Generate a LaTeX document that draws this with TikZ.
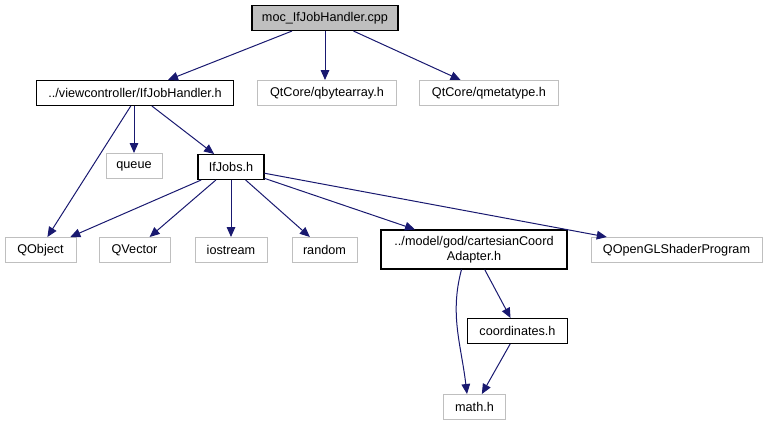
\documentclass[tikz,border=0pt]{standalone}
\usepackage{fontspec}
\setmainfont{Liberation Sans}
\usetikzlibrary{arrows.meta}
\definecolor{edgeblue}{RGB}{25,25,112}
\definecolor{boxgray}{RGB}{191,191,191}

\begin{document}
\begin{tikzpicture}[x=0.75pt,y=-0.75pt,
    font=\fontsize{9.5}{11}\selectfont,
    file/.style={draw=boxgray,line width=0.75pt,fill=white,inner sep=0pt,minimum height=18.75pt,align=center},
    local/.style={file,draw=black,line width=0.8pt},
    root/.style={local,fill=boxgray},
    edge/.style={draw=edgeblue,line width=0.75pt,-{Triangle[length=7.5pt,width=6.5pt]}}]
  \useasboundingbox (0,0) rectangle (767,425);
  \node[root,minimum width=109.5pt] (moc) at (325,18) {moc\_IfJobHandler.cpp};
  \node[local,minimum width=147.75pt] (ifjh) at (135,93) {../viewcontroller/IfJobHandler.h};
  \node[file,minimum width=104.25pt] (qba) at (327,93) {QtCore/qbytearray.h};
  \node[file,minimum width=104.25pt] (qmt) at (489,93) {QtCore/qmetatype.h};
  \node[file,minimum width=42pt] (queue) at (134,166) {queue};
  \node[local,minimum width=49.5pt] (ifjobs) at (231,167) {IfJobs.h};
  \node[file,minimum width=53.25pt] (qobj) at (40.5,250) {QObject};
  \node[file,minimum width=53.25pt] (qvec) at (134.5,250) {QVector};
  \node[file,minimum width=54pt] (iostr) at (231,250) {iostream};
  \node[file,minimum width=48.75pt] (rand) at (324.5,250) {random};
  \node[local,minimum width=139.5pt,minimum height=29.25pt] (cart) at (474,249.5) {../model/god/cartesianCoord\\Adapter.h};
  \node[file,minimum width=128.25pt] (qogl) at (676.5,250) {QOpenGLShaderProgram};
  \node[local,minimum width=75pt] (coord) at (517.5,331) {coordinates.h};
  \node[file,minimum width=46.5pt] (math) at (474.5,407) {math.h};

  \draw[edge] (moc) -- (ifjh);
  \draw[edge] (moc) -- (moc |- qba.north);
  \draw[edge] (moc) -- (qmt);
  \draw[edge] (ifjh.252) -- (qobj.62);
  \draw[edge] (ifjh.south -| queue) -- (queue);
  \draw[edge] (ifjh) -- (ifjobs);
  \draw[edge] (ifjobs) -- (qobj);
  \draw[edge] (ifjobs) -- (qvec);
  \draw[edge] (ifjobs) -- (iostr);
  \draw[edge] (ifjobs) -- (rand);
  \draw[edge] (ifjobs) -- (cart);
  \draw[edge] (ifjobs) -- (qogl);
  \draw[edge] (cart.238) .. controls +(-12,45) and +(-6,-50) .. (math.120);
  \draw[edge] (cart) -- (coord);
  \draw[edge] (coord) -- (math);
\end{tikzpicture}
\end{document}
